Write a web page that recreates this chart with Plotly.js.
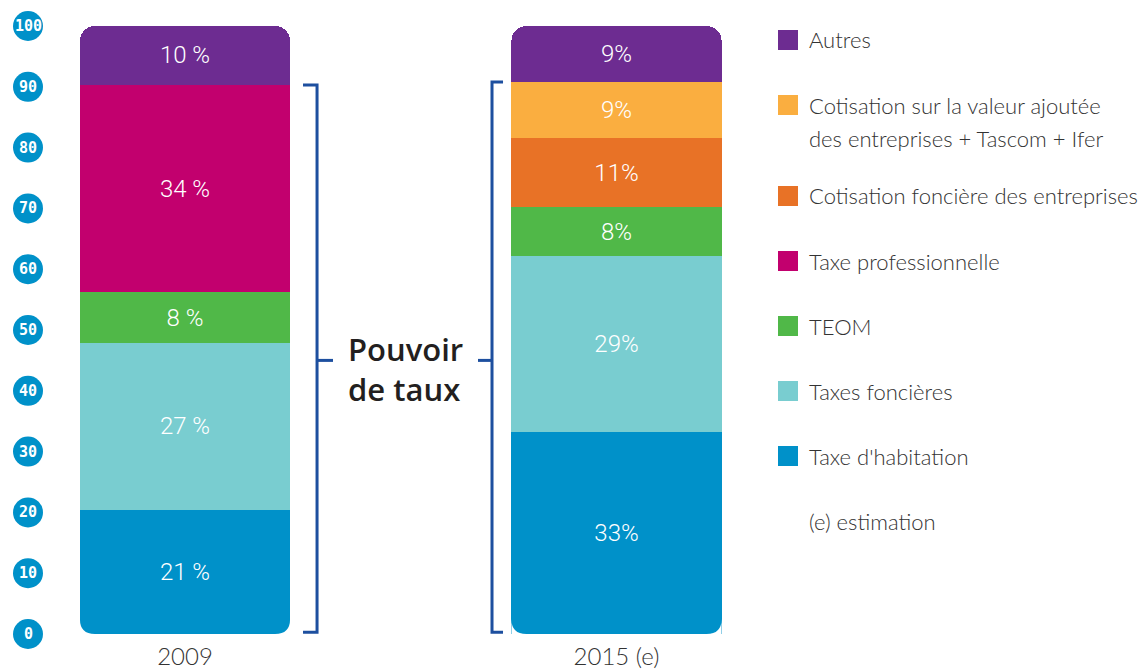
<!DOCTYPE html>
<html>
<head>
<meta charset="utf-8">
<script src="https://cdn.plot.ly/plotly-3.0.1.min.js"></script>
<style>html,body{margin:0;padding:0;background:#fff;}#chart{width:1142px;height:670px;}</style>
</head>
<body>
<div id="chart"></div>
<script>
// ---- data ----
const categories = ["2009", "2015 (e)"];
const seriesNames = [
  "Taxe d'habitation",
  "Taxes foncières",
  "TEOM",
  "Taxe professionnelle",
  "Cotisation foncière des entreprises",
  "Cotisation sur la valeur ajoutée<br>des entreprises + Tascom + Ifer",
  "Autres"
];
const seriesColors = ["#0091C9", "#79CDD0", "#50B848", "#C2006E", "#E87226", "#FAAE40", "#6D2C91"];
const taxeHabitation = [20.4, 33.3];
const taxesFoncieres = [27.5, 28.8];
const teom = [8.3, 8.2];
const taxeProfessionnelle = [34.1, null];
const cotisationFonciere = [null, 11.2];
const cvaeTascomIfer = [null, 9.3];
const autres = [9.7, 9.2];
const labelsHabitation = ["21 %", "33%"];
const labelsFoncieres = ["27 %", "29%"];
const labelsTeom = ["8 %", "8%"];
const labelsTaxePro = ["34 %", ""];
const labelsCfe = ["", "11%"];
const labelsCvae = ["", "9%"];
const labelsAutres = ["10 %", "9%"];
const yTicks = [0, 10, 20, 30, 40, 50, 60, 70, 80, 90, 100];
const legendNote = "(e) estimation";
const bracketText = "Pouvoir<br>de taux";

const seriesValues = [taxeHabitation, taxesFoncieres, teom, taxeProfessionnelle, cotisationFonciere, cvaeTascomIfer, autres];
const seriesLabels = [labelsHabitation, labelsFoncieres, labelsTeom, labelsTaxePro, labelsCfe, labelsCvae, labelsAutres];

// ---- geometry helpers (layout only) ----
const W = 1142, H = 670;
const M = {l: 60, r: 382, t: 26, b: 36};
const PW = W - M.l - M.r, PH = H - M.t - M.b;
const Y_RANGE = [0, 100];
const BAR_WIDTH = 0.487;
const px2x = p => (p - M.l) / PW;
const px2y = p => (H - M.b - p) / PH;
const val2py = v => (v - Y_RANGE[0]) / (Y_RANGE[1] - Y_RANGE[0]);

const FONT_TXT = "Lato, 'Open Sans', sans-serif";

const traces = seriesValues.map((vals, i) => ({
  type: "bar",
  name: seriesNames[i],
  x: categories,
  y: vals,
  text: seriesLabels[i],
  texttemplate: "%{text}",
  textposition: "inside",
  insidetextanchor: "middle",
  textangle: 0,
  textfont: {color: "#ffffff", size: 24, family: "Roboto, sans-serif", weight: 300},
  marker: {color: seriesColors[i], line: {width: 0}},
  width: BAR_WIDTH,
  hoverinfo: "skip",
  showlegend: false
}));

// cumulative sums for bracket tops
const sumBelowTop = col => seriesValues.slice(0, seriesValues.length - 1)
  .reduce((s, arr) => s + (arr[col] || 0), 0);
const top2009 = sumBelowTop(0);
const top2015 = sumBelowTop(1);
const bracketMid = 45;

const shapes = [];
const annotations = [];

// rounded bottom corners of the bars (white masks)
const R = 15;
categories.forEach((c, ci) => {
  [[ci - BAR_WIDTH / 2, 1], [ci + BAR_WIDTH / 2, -1]].forEach(([xa, s]) => {
    shapes.push({type: "path", xref: "x", yref: "y", xsizemode: "pixel", ysizemode: "pixel",
      xanchor: xa, yanchor: 0, layer: "above", fillcolor: "#ffffff", line: {width: 0},
      path: `M0,0 L0,${R} Q0,0 ${s * R},0 Z`});
  });
});

const bc = "#1D4F9F";
const line = {color: bc, width: 3};
// left bracket (2009)
const lv = 0.306, la = 0.2735, lm = 0.343;
shapes.push({type: "path", xref: "x", yref: "y", line,
  path: `M${la},${top2009} L${lv},${top2009} L${lv},0.3 L${la},0.3`});
shapes.push({type: "line", xref: "x", yref: "y", x0: lv, x1: lm, y0: bracketMid, y1: bracketMid, line});
// right bracket (2015)
const rv = 0.7115, ra = 0.737, rm = 0.679;
shapes.push({type: "path", xref: "x", yref: "y", line,
  path: `M${ra},${top2015} L${rv},${top2015} L${rv},0.3 L${ra},0.3`});
shapes.push({type: "line", xref: "x", yref: "y", x0: rv, x1: rm, y0: bracketMid, y1: bracketMid, line});

annotations.push({xref: "x", yref: "y", x: 0.5, y: bracketMid, xshift: 5, yshift: -9,
  text: bracketText, showarrow: false, align: "left", xanchor: "center", yanchor: "middle",
  font: {family: "'Open Sans', sans-serif", size: 31, color: "#231F20", weight: 600}});

// y tick badges
const badgeX = px2x(28);
yTicks.forEach(t => {
  shapes.push({type: "circle", xref: "paper", yref: "paper", xsizemode: "pixel", ysizemode: "pixel",
    xanchor: badgeX, yanchor: val2py(t), x0: -15, x1: 15, y0: -15, y1: 15,
    fillcolor: "#0091C9", line: {width: 0}, layer: "above"});
  annotations.push({xref: "paper", yref: "paper", x: badgeX, y: val2py(t), text: String(t), showarrow: false,
    xanchor: "center", yanchor: "middle",
    font: {family: "'DejaVu Sans Mono', monospace", size: 15, color: "#ffffff", weight: 700}});
});

// manual legend (top to bottom)
const legendOrder = seriesNames.map((n, i) => i).reverse();
let ly = 40;
legendOrder.forEach(i => {
  shapes.push({type: "rect", xref: "paper", yref: "paper",
    x0: px2x(778), x1: px2x(798), y0: px2y(ly - 10), y1: px2y(ly + 10),
    fillcolor: seriesColors[i], line: {width: 0}});
  const lines = seriesNames[i].split("<br>");
  lines.forEach((ln, j) => {
    annotations.push({xref: "paper", yref: "paper", x: px2x(807), y: px2y(ly + 33 * j),
      text: ln, showarrow: false, xanchor: "left", yanchor: "middle",
      font: {family: FONT_TXT, size: 22, color: "#333333", weight: 300}});
  });
  ly += 65 + 26 * (lines.length - 1);
});
annotations.push({xref: "paper", yref: "paper", x: px2x(807), y: px2y(ly),
  text: legendNote, showarrow: false, xanchor: "left", yanchor: "middle",
  font: {family: FONT_TXT, size: 22, color: "#333333", weight: 300}});

const layout = {
  width: W, height: H,
  margin: M,
  paper_bgcolor: "#ffffff", plot_bgcolor: "#ffffff",
  barmode: "stack",
  barcornerradius: R,
  showlegend: false,
  xaxis: {type: "category", range: [-(185 - M.l) / 431.5, 1 + (M.l + PW - 616.5) / 431.5],
    showgrid: false, zeroline: false, showline: false, ticks: "",
    ticklabelstandoff: 6,
    tickfont: {family: FONT_TXT, size: 24, color: "#333333", weight: 300}},
  yaxis: {range: Y_RANGE, showgrid: false, zeroline: false, showline: false,
    showticklabels: false, ticks: ""},
  shapes, annotations
};

Plotly.newPlot("chart", traces, layout, {staticPlot: true, displayModeBar: false});
</script>
</body>
</html>
